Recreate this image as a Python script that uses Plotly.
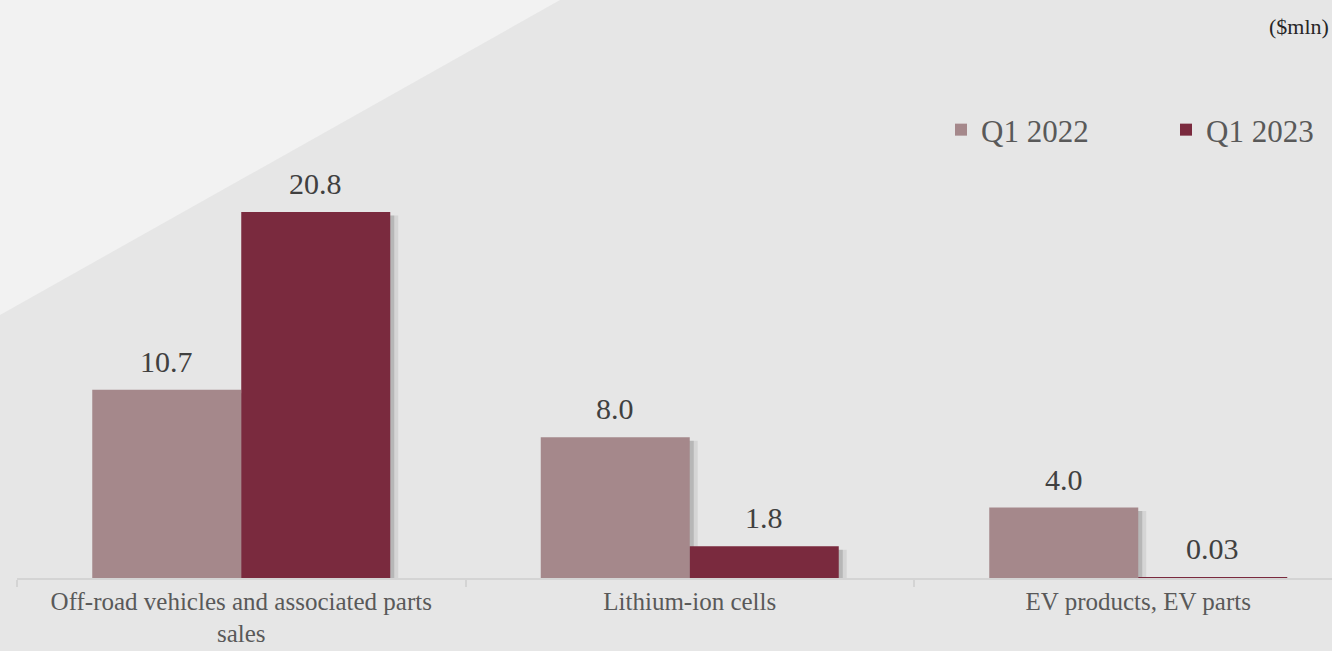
import plotly.graph_objects as go

categories = ["Off-road vehicles and associated parts<br>sales", "Lithium-ion cells", "EV products, EV parts"]
series_names = ["Q1 2022", "Q1 2023"]
q1_2022 = [10.7, 8.0, 4.0]
q1_2023 = [20.8, 1.8, 0.03]
labels_2022 = ["10.7", "8.0", "4.0"]
labels_2023 = ["20.8", "1.8", "0.03"]

colors = ["#a5888b", "#7a2a3e"]
FONT = "Liberation Serif"

W, H = 1332, 651
ML, MR, MT, MB = 17, 0, 100, 73
PW, PH = W - ML - MR, H - MT - MB
CAT_PX = 448.5
XMIN = -0.5
XMAX = XMIN + PW / CAT_PX
BAR_PX = 149
BAR_W = BAR_PX / CAT_PX
PX = 1 / CAT_PX
YMAX = PH / 17.6

fig = go.Figure()

series = [(series_names[0], q1_2022, labels_2022, colors[0], -BAR_W, -BAR_PX / 2, "legend"),
          (series_names[1], q1_2023, labels_2023, colors[1], 0.0, BAR_PX / 2, "legend2")]

# shadows
for name, vals, labs, col, off, sh, lg in series:
    for dx, alpha in [(8, 0.07), (4, 0.14)]:
        fig.add_trace(go.Bar(
            x=categories, y=vals, base=[-0.2] * len(vals),
            width=BAR_W, offset=off + dx * PX,
            marker=dict(color=f"rgba(0,0,0,{alpha})", line=dict(width=0)),
            showlegend=False, hoverinfo="skip"))

for name, vals, labs, col, off, sh, lg in series:
    fig.add_trace(go.Bar(
        name=name, x=categories, y=vals, width=BAR_W, offset=off,
        marker=dict(color=col, line=dict(width=0)), hoverinfo="skip",
        legend=lg))
    for c, v, t in zip(categories, vals, labs):
        fig.add_annotation(x=c, y=v, text=t, showarrow=False,
                           xanchor="center", yanchor="bottom",
                           xshift=sh, yshift=10,
                           font=dict(family=FONT, size=30, color="#404040"))

# background light triangle
x0 = -ML / PW
x1 = (560 - ML) / PW
ytop = (H - MB) / PH
ybot = (H - MB - 315) / PH
fig.add_shape(type="path", xref="paper", yref="paper",
              path=f"M {x0} {ytop} L {x1} {ytop} L {x0} {ybot} Z",
              fillcolor="#f2f2f2", line=dict(width=0), layer="below")

fig.add_annotation(text="($mln)", xref="paper", yref="paper",
                   x=(1331 - ML) / PW, y=(H - MB - 26) / PH,
                   xanchor="right", yanchor="middle", showarrow=False,
                   font=dict(family=FONT, size=22, color="#262626"))

legend_style = dict(orientation="h", xanchor="left", yanchor="middle",
                    y=(H - MB - 130) / PH,
                    font=dict(family=FONT, size=31, color="#595959"),
                    bgcolor="rgba(0,0,0,0)", itemwidth=30)

fig.update_layout(
    width=W, height=H,
    margin=dict(l=ML, r=MR, t=MT, b=MB, pad=0, autoexpand=False),
    paper_bgcolor="#e6e6e6", plot_bgcolor="rgba(0,0,0,0)",
    barmode="overlay",
    font=dict(family=FONT, color="#595959"),
    showlegend=True,
    legend=dict(x=(941 - ML) / PW, **legend_style),
    legend2=dict(x=(1166 - ML) / PW, **legend_style),
    xaxis=dict(range=[XMIN, XMAX], showgrid=False, zeroline=False,
               showline=True, linecolor="#d4d4d4", linewidth=1.5,
               ticks="outside", tickson="boundaries", ticklen=7,
               tickcolor="#d4d4d4", tickwidth=1.5, ticklabelstandoff=0,
               tickfont=dict(family=FONT, size=25, color="#595959"),
               fixedrange=True),
    yaxis=dict(range=[0, YMAX], visible=False, fixedrange=True),
)

fig.write_html("out.html", config={"displayModeBar": False},
               post_script="document.body.style.margin='0';document.body.style.padding='0';")
